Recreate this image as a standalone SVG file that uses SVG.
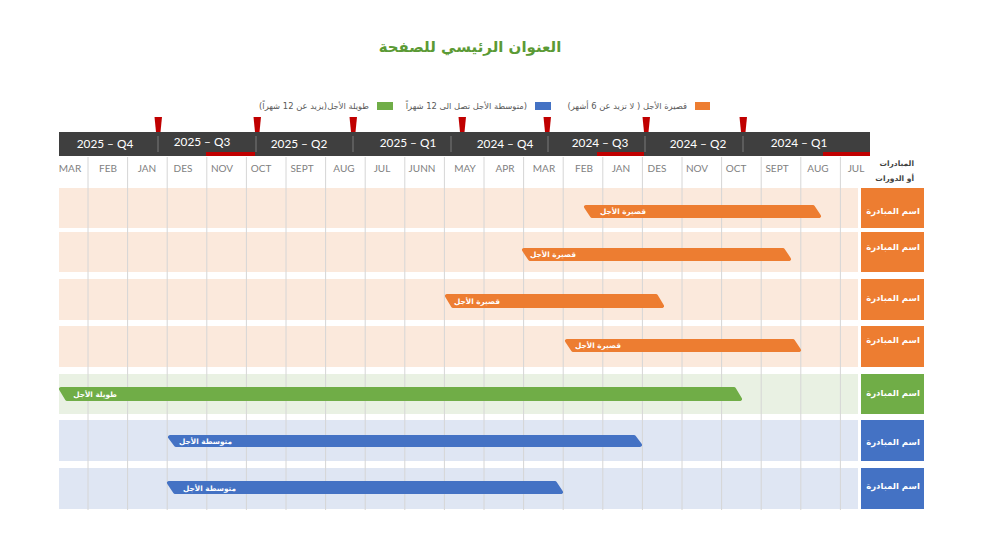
<svg xmlns="http://www.w3.org/2000/svg" width="1000" height="554" viewBox="0 0 1000 554">
<style>
.ar{font-family:"DejaVu Sans",sans-serif;}
.q{font-family:Lato,"Liberation Sans",sans-serif;font-size:11.8px;fill:#ffffff;text-anchor:middle;}
.m{font-family:Lato,"Liberation Sans",sans-serif;font-size:10px;fill:#7f7f7f;text-anchor:middle;}
.leg{font-family:"DejaVu Sans",sans-serif;font-size:8.4px;fill:#595959;text-anchor:end;}
.bt{font-family:"DejaVu Sans",sans-serif;font-size:7.3px;font-weight:bold;fill:#ffffff;text-anchor:end;}
.lt{font-family:"DejaVu Sans",sans-serif;font-size:8.5px;font-weight:bold;fill:#ffffff;text-anchor:middle;}
.grid{stroke:#d6d6d6;stroke-width:1;}
.div{stroke:#7a7a7a;stroke-width:1;}
.mk{fill:#c00000;}
.o{fill:#ED7D31;stroke:#ED7D31;stroke-width:4;stroke-linejoin:round;}
.g{fill:#70AD47;stroke:#70AD47;stroke-width:4;stroke-linejoin:round;}
.b{fill:#4472C4;stroke:#4472C4;stroke-width:4;stroke-linejoin:round;}
</style>
<rect width="1000" height="554" fill="#ffffff"/>
<g id="title">
<text x="470" y="52" class="ar" font-size="15" font-weight="bold" fill="#5B9A35" text-anchor="middle">العنوان الرئيسي للصفحة</text>
</g>
<g id="legend">
<rect x="695" y="102" width="15" height="8" fill="#ED7D31"/>
<text x="687" y="109" class="leg">قصيرة الأجل ( لا تزيد عن 6 أشهر)</text>
<rect x="535" y="102" width="16" height="8" fill="#4472C4"/>
<text x="527" y="109" class="leg">متوسطة الأجل تصل الى 12 شهراً)</text>
<rect x="377" y="102" width="16" height="8" fill="#70AD47"/>
<text x="369" y="109" class="leg">طويلة الأجل(يزيد عن 12 شهراً)</text>
</g>
<g id="bands">
<rect x="59" y="188" width="799" height="40" fill="#FBE9DC"/>
<rect x="59" y="232" width="799" height="40" fill="#FBE9DC"/>
<rect x="59" y="279" width="799" height="41" fill="#FBE9DC"/>
<rect x="59" y="326" width="799" height="41" fill="#FBE9DC"/>
<rect x="59" y="374" width="799" height="40" fill="#E9F1E3"/>
<rect x="59" y="420" width="799" height="41" fill="#DFE6F3"/>
<rect x="59" y="468" width="799" height="41" fill="#DFE6F3"/>
</g>
<g id="grid" class="grid">
<line x1="88" y1="157" x2="88" y2="510"/>
<line x1="127.6" y1="157" x2="127.6" y2="510"/>
<line x1="167.2" y1="157" x2="167.2" y2="510"/>
<line x1="206.8" y1="157" x2="206.8" y2="510"/>
<line x1="246.4" y1="157" x2="246.4" y2="510"/>
<line x1="286" y1="157" x2="286" y2="510"/>
<line x1="325.6" y1="157" x2="325.6" y2="510"/>
<line x1="365.2" y1="157" x2="365.2" y2="510"/>
<line x1="404.8" y1="157" x2="404.8" y2="510"/>
<line x1="444.4" y1="157" x2="444.4" y2="510"/>
<line x1="484" y1="157" x2="484" y2="510"/>
<line x1="523.6" y1="157" x2="523.6" y2="510"/>
<line x1="563.2" y1="157" x2="563.2" y2="510"/>
<line x1="602.8" y1="157" x2="602.8" y2="510"/>
<line x1="642.4" y1="157" x2="642.4" y2="510"/>
<line x1="682" y1="157" x2="682" y2="510"/>
<line x1="721.6" y1="157" x2="721.6" y2="510"/>
<line x1="761.2" y1="157" x2="761.2" y2="510"/>
<line x1="800.8" y1="157" x2="800.8" y2="510"/>
<line x1="840.4" y1="157" x2="840.4" y2="510"/>
</g>
<g id="header">
<rect x="59" y="132" width="811" height="24" fill="#3F3F3F"/>
<line class="div" x1="158" y1="136" x2="158" y2="152"/>
<line class="div" x1="256" y1="136" x2="256" y2="152"/>
<line class="div" x1="353" y1="136" x2="353" y2="152"/>
<line class="div" x1="451" y1="136" x2="451" y2="152"/>
<line class="div" x1="548" y1="136" x2="548" y2="152"/>
<line class="div" x1="645" y1="136" x2="645" y2="152"/>
<line class="div" x1="743" y1="136" x2="743" y2="152"/>
<text class="q" x="105" y="148">2025 – Q4</text>
<text class="q" x="202" y="146">2025 – Q3</text>
<text class="q" x="299" y="148">2025 – Q2</text>
<text class="q" x="408" y="147">2025 – Q1</text>
<text class="q" x="505" y="148">2024 – Q4</text>
<text class="q" x="600" y="147">2024 – Q3</text>
<text class="q" x="698" y="148">2024 – Q2</text>
<text class="q" x="799" y="147">2024 – Q1</text>
<rect x="206" y="152" width="49" height="4" fill="#c00000"/>
<rect x="597" y="152" width="47" height="4" fill="#c00000"/>
<rect x="823" y="152" width="47" height="4" fill="#c00000"/>
<polygon class="mk" points="154.5,117 162,117 160.5,132 156,132"/>
<polygon class="mk" points="253.5,117 261,117 259.5,132 255,132"/>
<polygon class="mk" points="349.5,117 357,117 355.5,132 351,132"/>
<polygon class="mk" points="458.5,117 466,117 464.5,132 460,132"/>
<polygon class="mk" points="543.5,117 551,117 549.5,132 545,132"/>
<polygon class="mk" points="642.5,117 650,117 648.5,132 644,132"/>
<polygon class="mk" points="739.5,117 747,117 745.5,132 741,132"/>
<text class="m" x="70" y="172">MAR</text>
<text class="m" x="108" y="172">FEB</text>
<text class="m" x="147" y="172">JAN</text>
<text class="m" x="183" y="172">DES</text>
<text class="m" x="222" y="172">NOV</text>
<text class="m" x="261" y="172">OCT</text>
<text class="m" x="302" y="172">SEPT</text>
<text class="m" x="344" y="172">AUG</text>
<text class="m" x="382" y="172">JUL</text>
<text class="m" x="422" y="172">JUNN</text>
<text class="m" x="465" y="172">MAY</text>
<text class="m" x="505" y="172">APR</text>
<text class="m" x="544" y="172">MAR</text>
<text class="m" x="584" y="172">FEB</text>
<text class="m" x="621" y="172">JAN</text>
<text class="m" x="657" y="172">DES</text>
<text class="m" x="697" y="172">NOV</text>
<text class="m" x="736" y="172">OCT</text>
<text class="m" x="777" y="172">SEPT</text>
<text class="m" x="818" y="172">AUG</text>
<text class="m" x="856" y="172">JUL</text>
<text class="ar" x="914" y="166" font-size="7.5" font-weight="bold" fill="#404040" text-anchor="end">المبادرات</text>
<text class="ar" x="914" y="181" font-size="7.5" font-weight="bold" fill="#404040" text-anchor="end">أو الدورات</text>
</g>
<g id="row1">
<path class="o" d="M586,207 H813 L819,216 H592 Z"/>
<text class="bt" x="646" y="214">قصيرة الأجل</text>
<rect x="861" y="188" width="63" height="40" fill="#ED7D31"/>
<text class="lt" x="893" y="214">اسم المبادرة</text>
</g>
<g id="row2">
<path class="o" d="M524,250 H783 L789,259 H530 Z"/>
<text class="bt" x="576" y="257">قصيرة الأجل</text>
<rect x="861" y="232" width="63" height="40" fill="#ED7D31"/>
<text class="lt" x="893" y="250">اسم المبادرة</text>
</g>
<g id="row3">
<path class="o" d="M447,296 H656 L662,306 H453 Z"/>
<text class="bt" x="500" y="303.5">قصيرة الأجل</text>
<rect x="861" y="279" width="63" height="41" fill="#ED7D31"/>
<text class="lt" x="893" y="301">اسم المبادرة</text>
</g>
<g id="row4">
<path class="o" d="M567,341 H793 L799,350 H573 Z"/>
<text class="bt" x="621" y="348">قصيرة الأجل</text>
<rect x="861" y="326" width="63" height="41" fill="#ED7D31"/>
<text class="lt" x="893" y="343">اسم المبادرة</text>
</g>
<g id="row5">
<path class="g" d="M61,389 H734 L740,399 H67 Z"/>
<text class="bt" x="117" y="396.5">طويلة الأجل</text>
<rect x="861" y="374" width="63" height="40" fill="#70AD47"/>
<text class="lt" x="893" y="396">اسم المبادرة</text>
</g>
<g id="row6">
<path class="b" d="M170,437 H634 L640,445 H176 Z"/>
<text class="bt" x="232" y="443.5">متوسطة الأجل</text>
<rect x="861" y="420" width="63" height="41" fill="#4472C4"/>
<text class="lt" x="893" y="445">اسم المبادرة</text>
</g>
<g id="row7">
<path class="b" d="M169,483 H555 L561,492 H175 Z"/>
<text class="bt" x="236" y="490.5">متوسطة الأجل</text>
<rect x="861" y="468" width="63" height="41" fill="#4472C4"/>
<text class="lt" x="893" y="489">اسم المبادرة</text>
</g>
</svg>
